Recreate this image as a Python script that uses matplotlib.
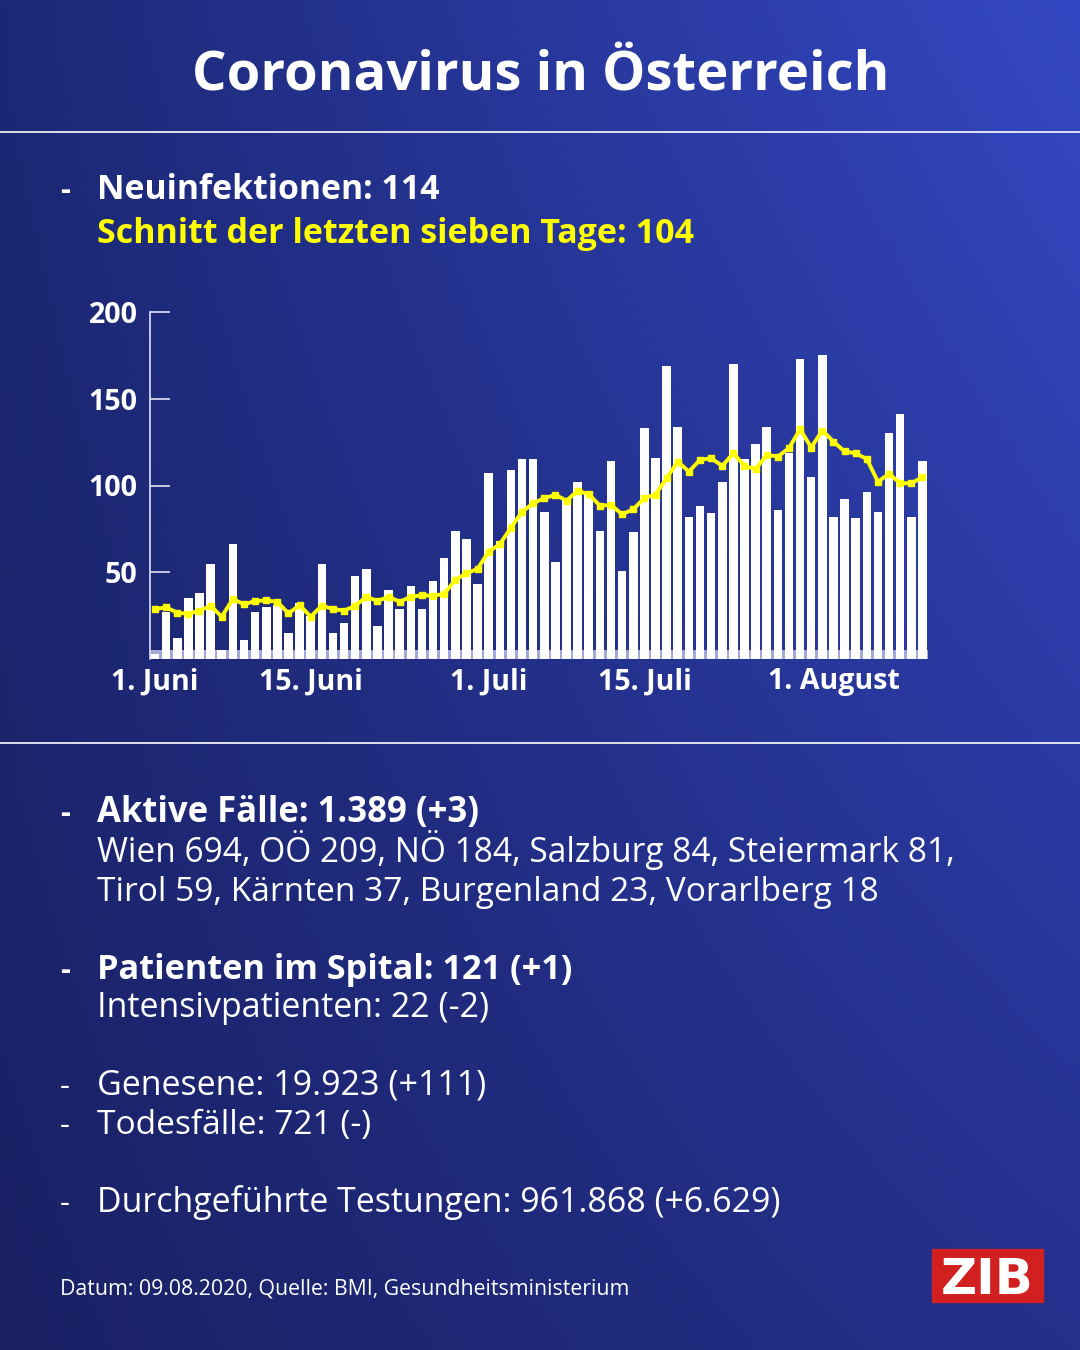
import numpy as np
import matplotlib
matplotlib.use("Agg")
import matplotlib.pyplot as plt
from matplotlib import font_manager as fm
from matplotlib.patches import Rectangle

# ---- data ----
cases = [3, 27, 12, 35, 38, 55, 5, 66, 11, 27,
         30, 31, 15, 32, 25, 55, 15, 21, 48, 52,
         19, 40, 29, 42, 29, 45, 58, 74, 69, 43,
         107, 68, 109, 115, 115, 85, 56, 92, 102, 96,
         74, 114, 51, 73, 133, 116, 169, 134, 82, 88,
         84, 102, 170, 115, 124, 134, 86, 119, 173, 105,
         175, 82, 92, 81, 96, 85, 130, 141, 82, 114]
avg7 = [28.7, 29.8, 26.7, 26.0, 27.9, 30.6, 24.4, 34.6, 31.5, 33.4,
        33.8, 32.9, 26.3, 31.0, 24.4, 30.8, 28.8, 27.9, 30.6, 35.9,
        33.4, 35.9, 33.0, 35.9, 36.7, 36.5, 37.5, 45.6, 49.4, 51.9,
        61.9, 66.1, 75.7, 84.8, 89.8, 92.7, 94.6, 91.3, 96.9, 95.0,
        88.4, 88.8, 83.4, 86.3, 92.7, 94.8, 104.2, 113.8, 108.0, 114.8,
        115.7, 111.3, 118.6, 111.3, 109.4, 117.6, 116.7, 121.5, 132.5, 121.9,
        131.7, 125.3, 119.6, 118.6, 115.2, 102.2, 106.7, 101.3, 101.3, 104.8]
days = np.arange(len(cases))   # 0 = 1. Juni
xtick_pos = [0, 14, 30, 44, 61]
xtick_lab = ["1. Juni", "15. Juni", "1. Juli", "15. Juli", "1. August"]
ytick_pos = [50, 100, 150, 200]

title = "Coronavirus in Österreich"
head1 = "Neuinfektionen: 114"
head2 = "Schnitt der letzten sieben Tage: 104"
lines = [  # (text, bold, dash, baseline y px, target width px)
    ("Aktive Fälle: 1.389 (+3)", True, True, 822, 382),
    ("Wien 694, OÖ 209, NÖ 184, Salzburg 84, Steiermark 81,", False, False, 862, 858),
    ("Tirol 59, Kärnten 37, Burgenland 23, Vorarlberg 18", False, False, 901, 780),
    ("Patienten im Spital: 121 (+1)", True, True, 979, 475),
    ("Intensivpatienten: 22 (-2)", False, False, 1017, 393),
    ("Genesene: 19.923 (+111)", False, True, 1095, 389),
    ("Todesfälle: 721 (-)", False, True, 1134, 273),
    ("Durchgeführte Testungen: 961.868 (+6.629)", False, True, 1212, 684),
]
footer = "Datum: 09.08.2020, Quelle: BMI, Gesundheitsministerium"

names = {f.name for f in fm.fontManager.ttflist}
FONT = "Liberation Sans Narrow" if "Liberation Sans Narrow" in names else "Open Sans"
YELLOW = "#ffff00"

fig = plt.figure(figsize=(10.8, 13.5), dpi=100)
bg = fig.add_axes([0, 0, 1, 1])
bg.set_xlim(0, 1080)
bg.set_ylim(1350, 0)
bg.axis("off")

# background gradient, brighter to the top right
H, W = 135, 108
tl = np.array([28, 40, 118]); tr = np.array([52, 72, 195])
bl = np.array([26, 33, 100]); br = np.array([36, 48, 140])
u = np.linspace(0, 1, W)[None, :, None]
v = np.linspace(0, 1, H)[:, None, None]
grad = (1 - v) * ((1 - u) * tl + u * tr) + v * ((1 - u) * bl + u * br)
bg.imshow(grad / 255.0, extent=[0, 1080, 1350, 0], aspect="auto", interpolation="bilinear", zorder=0)

bg.plot([0, 1080], [132, 132], color="white", lw=1.2, zorder=1)
bg.plot([0, 1080], [743, 743], color="white", lw=1.2, zorder=1)

renderer = fig.canvas.get_renderer()


def put(x, y, s, width, **kw):
    t = bg.text(x, y, s, fontsize=30, va="baseline", zorder=3, **kw)
    bb = t.get_window_extent(renderer=renderer)
    t.set_fontsize(30 * width / bb.width)
    return t


put(192, 90, title, 696, color="white", family=FONT, fontweight="bold")
put(60, 199, "-", 10, color="white", family=FONT, fontweight="bold")
put(97, 199, head1, 344, color="white", family=FONT, fontweight="bold")
put(97, 243, head2, 597, color=YELLOW, family=FONT, fontweight="bold")

for txt, bold, dash, yb, w in lines:
    wt = "bold" if bold else "normal"
    if dash:
        put(60, yb, "-", 10, color="white", family=FONT, fontweight=wt)
    put(97, yb, txt, w, color="white", family=FONT, fontweight=wt)

put(60, 1294, footer, 566, color="white", family=FONT)

# ZIB logo
bg.add_patch(Rectangle((932, 1249), 111, 53, color="#d21f1f", zorder=2))
put(941, 1294, "ZIB", 93, color="white", family="DejaVu Sans", fontweight="bold")

# ---- chart ----
ax = fig.add_axes([150 / 1080, (1350 - 659) / 1350, 778 / 1080, 347 / 1350])
ax.patch.set_alpha(0)
ax.axhspan(0, 5, color="#a3a8d8", zorder=1, lw=0)
ax.bar(days, cases, width=0.77, color="white", zorder=2)
ax.plot(days, avg7, color=YELLOW, lw=2.8, marker="s", markersize=4.5, zorder=3)
ax.set_xlim(-0.45, len(cases) - 0.5)
ax.set_ylim(0, 200)

for s in ["top", "right", "bottom"]:
    ax.spines[s].set_visible(False)
ax.spines["left"].set_color("#dfe2f5")
ax.spines["left"].set_linewidth(1.2)

probe = bg.text(0, 0, "200", fontsize=30, family=FONT, fontweight="bold")
fs = 30 * 49 / probe.get_window_extent(renderer=renderer).width
probe.remove()

ax.set_yticks(ytick_pos)
ax.set_yticklabels([str(v) for v in ytick_pos], family=FONT, fontweight="bold", fontsize=fs, color="white")
ax.tick_params(axis="y", direction="in", length=14.5, width=1.2, color="#dfe2f5", pad=9)
ax.set_xticks(xtick_pos)
ax.set_xticklabels(xtick_lab, family=FONT, fontweight="bold", fontsize=fs, color="white")
ax.tick_params(axis="x", length=0, pad=6)

fig.savefig("out.png", dpi=100)
